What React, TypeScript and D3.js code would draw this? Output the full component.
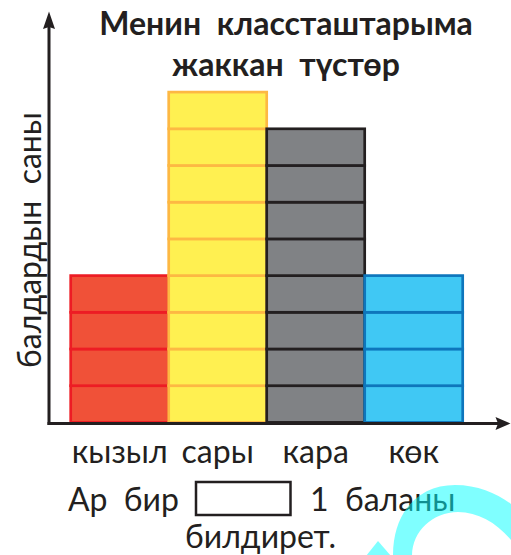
import React from "react";
import * as d3 from "d3";

const categories = ["кызыл", "сары", "кара", "көк"];
const counts = [4, 9, 8, 4];
const fills = ["#F05138", "#FFF051", "#808285", "#40C8F4"];
const strokes = ["#ED1C24", "#FDB843", "#231F20", "#0E76BC"];
const titleLines = ["Менин  классташтарыма", "жаккан  түстөр"];
const yLabel = "балдардын  саны";
const legendParts = ["Ар  бир", "1  баланы", "билдирет."];

const W = 511;
const H = 555;
const INK = "#231F20";
const FONT = "Lato, 'Noto Sans', sans-serif";

export default function App() {
  const x = d3.scaleBand<string>().domain(categories).range([70.7, 462.7]).padding(0);
  const y = d3.scaleLinear().domain([0, 4]).range([422.4, 275.6]);
  const axisY = 423.5;
  const axisX = 49;

  return (
    <svg
      width={W}
      height={H}
      style={{ position: "absolute", left: 0, top: 0, display: "block", background: "#fff" }}
      fontFamily={FONT}
    >
      {/* title */}
      <text x={286} y={35} textAnchor="middle" fontWeight={700} fontSize={32} fill={INK} style={{ whiteSpace: "pre" }}>
        {titleLines[0]}
      </text>
      <text x={286} y={75.5} textAnchor="middle" fontWeight={700} fontSize={32} fill={INK} style={{ whiteSpace: "pre" }}>
        {titleLines[1]}
      </text>

      {/* y label */}
      <text
        transform={`translate(41,240) rotate(-90)`}
        textAnchor="middle"
        fontSize={32}
        fill={INK}
        style={{ whiteSpace: "pre" }}
      >
        {yLabel}
      </text>

      {/* bars */}
      {categories.map((c, ci) => (
        <g key={c}>
          {d3.range(counts[ci]).map((i) => (
            <rect
              key={i}
              x={x(c)!}
              y={y(i + 1)}
              width={x.bandwidth()}
              height={y(i) - y(i + 1)}
              fill={fills[ci]}
              stroke={strokes[ci]}
              strokeWidth={2.7}
            />
          ))}
        </g>
      ))}

      {/* axes */}
      <line x1={axisX} x2={axisX} y1={24} y2={axisY + 1.5} stroke={INK} strokeWidth={3} />
      <path d={`M${axisX} 11.5 L${axisX + 6} 29 L${axisX} 27 L${axisX - 6} 29 Z`} fill={INK} />
      <line x1={axisX - 1.5} x2={500} y1={axisY} y2={axisY} stroke={INK} strokeWidth={3} />
      <path d={`M510.5 ${axisY} L495.5 ${axisY + 6.5} L498 ${axisY} L495.5 ${axisY - 6.5} Z`} fill={INK} />

      {/* category labels */}
      {categories.map((c) => (
        <text key={c} x={x(c)! + x.bandwidth() / 2} y={463} textAnchor="middle" fontSize={32} fill={INK}>
          {c}
        </text>
      ))}

      {/* legend */}
      <text x={68} y={511} fontSize={32} fill={INK} style={{ whiteSpace: "pre" }}>
        {legendParts[0]}
      </text>
      <rect x={196} y={482} width={94.5} height={33} fill="#fff" stroke={INK} strokeWidth={2.5} />
      <text x={310} y={511} fontSize={32} fill={INK} style={{ whiteSpace: "pre" }}>
        {legendParts[1]}
      </text>
      <text x={185} y={548} fontSize={32} fill={INK}>
        {legendParts[2]}
      </text>

      {/* watermark */}
      <g fill="#00FFFF" fillOpacity={0.5}>
        <path d="M393 556 C393 510 420 485 455 485 C480 485 500 495 515 507 L515 545 C500 525 480 512 458 512 C432 512 412 532 412 556 Z" />
        <path d="M366 556 L378 541 L391 556 Z" />
      </g>
    </svg>
  );
}
